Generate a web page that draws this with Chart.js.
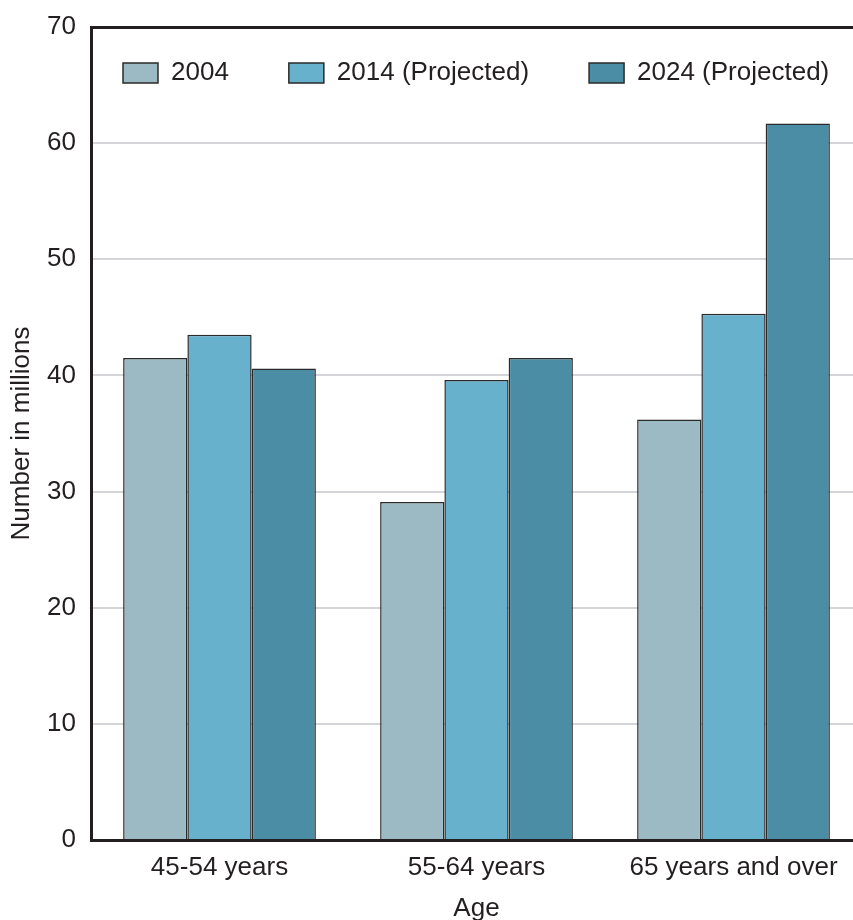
<!DOCTYPE html>
<html>
<head>
<meta charset="utf-8">
<script src="https://cdn.jsdelivr.net/npm/chart.js@4/dist/chart.umd.min.js"></script>
<style>
    html, body { margin: 0; padding: 0; overflow: hidden; background: #fff; }
    #wrap { width: 862px; height: 920px; }
</style>
</head>
<body>
<div id="wrap"><canvas id="age-chart" width="862" height="920"></canvas></div>
<script>
// Chart data
const ageGroups = ['45-54 years', '55-64 years', '65 years and over'];
const seriesNames = ['2004', '2014 (Projected)', '2024 (Projected)'];
const values2004 = [41.5, 29.1, 36.2];
const values2014 = [43.5, 39.6, 45.3];
const values2024 = [40.6, 41.5, 61.7];
const yTicks = [0, 10, 20, 30, 40, 50, 60, 70];

const colors = ['#9bbac3', '#67b1cc', '#4a8da5'];
const ink = '#231f20';
const font = { family: '"Liberation Sans", Arial, sans-serif', size: 26 };

// Legend sits inside the frame: keep its reserved height small,
// then open its box up again and move it to the first bar's left edge
const legendInside = {
    id: 'legendInside',
    beforeInit(chart) {
        const fit = chart.legend.fit;
        chart.legend.fit = function () {
            fit.call(this);
            this.height = 27;
        };
    },
    afterLayout(chart) {
        const lg = chart.legend;
        const w = lg.right - lg.left;
        lg.left = 63;
        lg.right = 63 + w;
        lg.width = w;
        lg.top = 0;
        lg.bottom = 110;
        lg.height = 110;
    }
};

const ctx = document.getElementById('age-chart');
const chart = new Chart(ctx, {
    type: 'bar',
    data: {
        labels: ageGroups,
        datasets: [values2004, values2014, values2024].map((vals, i) => ({
            label: seriesNames[i],
            data: vals,
            backgroundColor: colors[i],
            borderColor: '#2a2a2a',
            borderWidth: 1.5,
            categoryPercentage: 0.75,
            barPercentage: 1
        }))
    },
    options: {
        responsive: false,
        animation: false,
        layout: {
            padding: 0
        },
        plugins: {
            tooltip: { enabled: false },
            legend: {
                position: 'top',
                align: 'start',
                labels: {
                    boxWidth: 35,
                    boxHeight: 20,
                    padding: 60,
                    color: ink,
                    font: font
                }
            }
        },
        scales: {
            x: {
                grid: { display: false },
                border: { display: true, color: ink, width: 3 },
                ticks: { color: ink, font: font, padding: 4 },
                title: {
                    display: true,
                    text: 'Age',
                    color: ink,
                    font: font,
                    padding: { top: 0, bottom: -4 }
                },
                afterFit(scale) { scale.height = 80; }
            },
            y: {
                min: 0,
                max: 70,
                afterBuildTicks(scale) {
                    scale.ticks = yTicks.map(v => ({ value: v }));
                },
                grid: {
                    drawTicks: false,
                    color: c => c.tick && c.tick.value === 70 ? ink : '#d3d5d8',
                    lineWidth: c => c.tick && c.tick.value === 70 ? 3 : 2
                },
                border: { display: true, color: ink, width: 3 },
                ticks: { color: ink, font: font, padding: 15 },
                title: {
                    display: true,
                    text: 'Number in millions',
                    color: ink,
                    font: font,
                    padding: { top: 6, bottom: 0 }
                },
                afterFit(scale) {
                    scale.width = 91;
                    scale.paddingTop = 0;
                    scale.paddingBottom = 0;
                }
            }
        }
    },
    plugins: [legendInside]
});
</script>
</body>
</html>
